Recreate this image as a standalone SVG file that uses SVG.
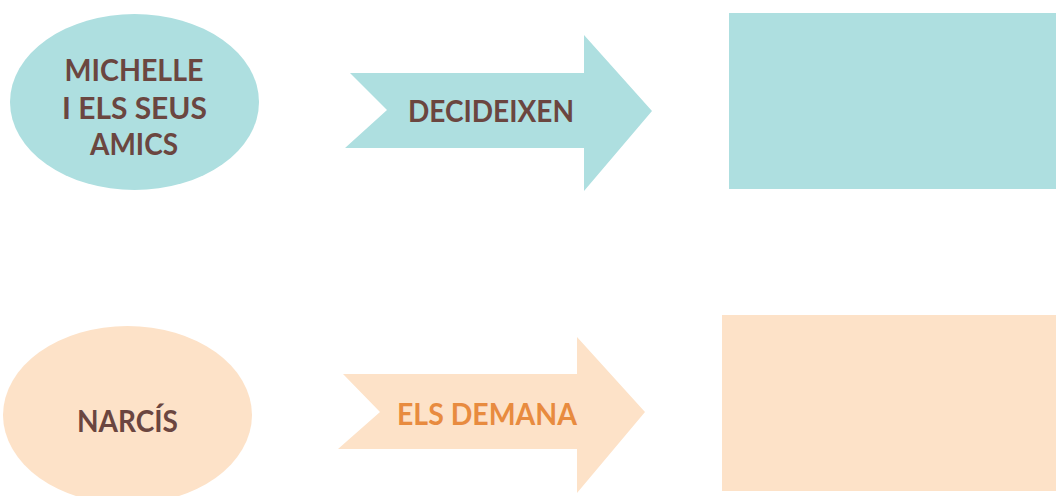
<svg xmlns="http://www.w3.org/2000/svg" width="1056" height="496" viewBox="0 0 1056 496">
<style>
.teal{fill:#AEDFE0}
.peach{fill:#FDE2C8}
.t{font-family:Lato,"Open Sans","Noto Sans",sans-serif;font-weight:bold;font-size:31px;text-anchor:middle}
.brown{fill:#6B4640}
.orange{fill:#E88B3F}
</style>
<rect width="1056" height="496" fill="#FFFFFF"/>
<g id="michelle">
<ellipse class="teal" cx="134.5" cy="102" rx="124.5" ry="88"/>
<text class="t brown" x="134" y="81" textLength="139" lengthAdjust="spacingAndGlyphs">MICHELLE</text>
<text class="t brown" x="134.5" y="119" textLength="145" lengthAdjust="spacingAndGlyphs">I ELS SEUS</text>
<text class="t brown" x="134" y="155" textLength="88" lengthAdjust="spacingAndGlyphs">AMICS</text>
</g>
<g id="box1">
<rect class="teal" x="729" y="13" width="327" height="176"/>
</g>
<g id="narcis">
<ellipse class="peach" cx="127.5" cy="415" rx="124.5" ry="89"/>
<text class="t brown" x="127.5" y="432" textLength="101" lengthAdjust="spacingAndGlyphs">NARCÍS</text>
</g>
<g id="box2">
<rect class="peach" x="722" y="315" width="334" height="176"/>
</g>
<g id="connectors">
<g id="arrow1">
<path class="teal" d="M350,73 L584,73 L584,35 L652,111 L584,191 L584,148 L345,148 L387,110 Z"/>
<text class="t brown" x="491" y="122" textLength="166" lengthAdjust="spacingAndGlyphs">DECIDEIXEN</text>
</g>
<g id="arrow2">
<path class="peach" d="M343,374 L577,374 L577,337 L645,412 L577,493 L577,449 L338,449 L380,412 Z"/>
<text class="t orange" x="487" y="425" textLength="180" lengthAdjust="spacingAndGlyphs">ELS DEMANA</text>
</g>
</g>
</svg>
